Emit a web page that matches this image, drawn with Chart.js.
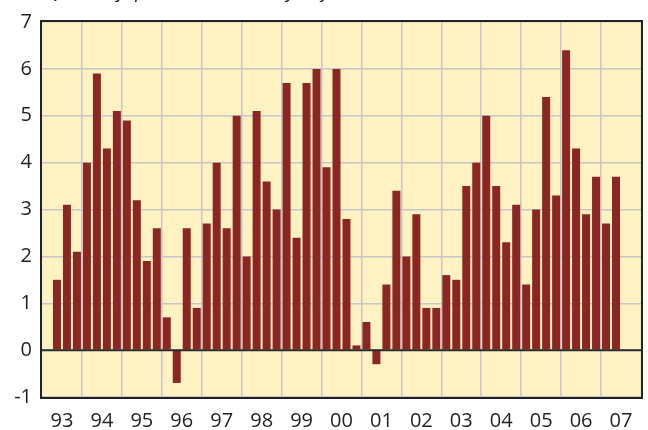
<!DOCTYPE html>
<html>
<head>
<meta charset="utf-8">
<script src="https://cdn.jsdelivr.net/npm/chart.js@4/dist/chart.umd.min.js"></script>
<style>
  body { margin: 0; background: #fff; }
  canvas { display: block; }
</style>
</head>
<body>
<canvas id="growth-chart" width="648" height="430"></canvas>
<script>
const years = ['93', '94', '95', '96', '97', '98', '99', '00', '01', '02', '03', '04', '05', '06', '07'];
const quarters = ['Q1', 'Q2', 'Q3', 'Q4'];
const categories = years.flatMap(y => quarters.map(q => y + q));
// quarterly values, 93Q2 .. 07Q2
const growth = [
    null, 1.5, 3.1, 2.1,
    4.0, 5.9, 4.3, 5.1,
    4.9, 3.2, 1.9, 2.6,
    0.7, -0.7, 2.6, 0.9,
    2.7, 4.0, 2.6, 5.0,
    2.0, 5.1, 3.6, 3.0,
    5.7, 2.4, 5.7, 6.0,
    3.9, 6.0, 2.8, 0.1,
    0.6, -0.3, 1.4, 3.4,
    2.0, 2.9, 0.9, 0.9,
    1.6, 1.5, 3.5, 4.0,
    5.0, 3.5, 2.3, 3.1,
    1.4, 3.0, 5.4, 3.3,
    6.4, 4.3, 2.9, 3.7,
    2.7, 3.7, null, null
];
const yMin = -1;
const yMax = 7;
const titleText = 'Quarterly, percent, seasonally adjusted annual rate';

const tickFont = { family: "'Open Sans', 'Noto Sans', sans-serif", size: 20 };
const gridGrey = '#c6c6c6';

const framePlugin = {
    id: 'frame',
    beforeDraw(chart) {
        const c = chart.ctx;
        const a = chart.chartArea;
        c.save();
        c.fillStyle = '#fff';
        c.fillRect(0, 0, chart.width, chart.height);
        c.fillStyle = '#fef2c3';
        c.fillRect(a.left, a.top, a.right - a.left, a.bottom - a.top);
        // title, cut off above the picture: only descenders show
        c.fillStyle = '#222';
        c.font = "italic 19px 'Open Sans', sans-serif";
        c.textBaseline = 'alphabetic';
        c.fillText(titleText, 46, -2.5);
        c.restore();
    },
    afterDraw(chart) {
        const c = chart.ctx;
        const a = chart.chartArea;
        const y0 = chart.scales.y.getPixelForValue(0);
        c.save();
        c.strokeStyle = '#2b2b2b';
        c.lineWidth = 2;
        c.beginPath();
        c.moveTo(a.left, y0);
        c.lineTo(a.right, y0);
        c.stroke();
        c.strokeStyle = '#222';
        c.strokeRect(a.left - 1, a.top - 1, a.right - a.left + 2, a.bottom - a.top + 2);
        c.restore();
    }
};

const ctx = document.getElementById('growth-chart').getContext('2d');
new Chart(ctx, {
    type: 'bar',
    data: {
        labels: categories,
        datasets: [{
            data: growth,
            backgroundColor: '#8b2723',
            categoryPercentage: 1,
            barPercentage: 0.8
        }]
    },
    options: {
        responsive: false,
        animation: false,
        layout: { padding: { top: 21, right: 3, left: 0, bottom: 0 } },
        plugins: { legend: { display: false }, tooltip: { enabled: false } },
        scales: {
            x: {
                border: { display: false },
                grid: {
                    offset: true,
                    drawTicks: false,
                    lineWidth: 1.5,
                    color: c => (c.index > 0 && c.index < categories.length && c.index % 4 === 0) ? gridGrey : 'rgba(0,0,0,0)'
                },
                ticks: {
                    autoSkip: false,
                    maxRotation: 0,
                    labelOffset: 5,
                    padding: 12,
                    font: tickFont,
                    color: '#231f20',
                    callback: (v, i) => i % 4 === 1 ? categories[i].slice(0, 2) : ''
                },
                afterFit: s => { s.height = 33; }
            },
            y: {
                min: yMin,
                max: yMax,
                border: { display: false },
                grid: {
                    drawTicks: false,
                    lineWidth: 1.5,
                    color: gridGrey
                },
                ticks: {
                    stepSize: 1,
                    padding: 10,
                    font: tickFont,
                    color: '#231f20'
                },
                afterFit: s => { s.width = 42; }
            }
        }
    },
    plugins: [framePlugin]
});
</script>
</body>
</html>
